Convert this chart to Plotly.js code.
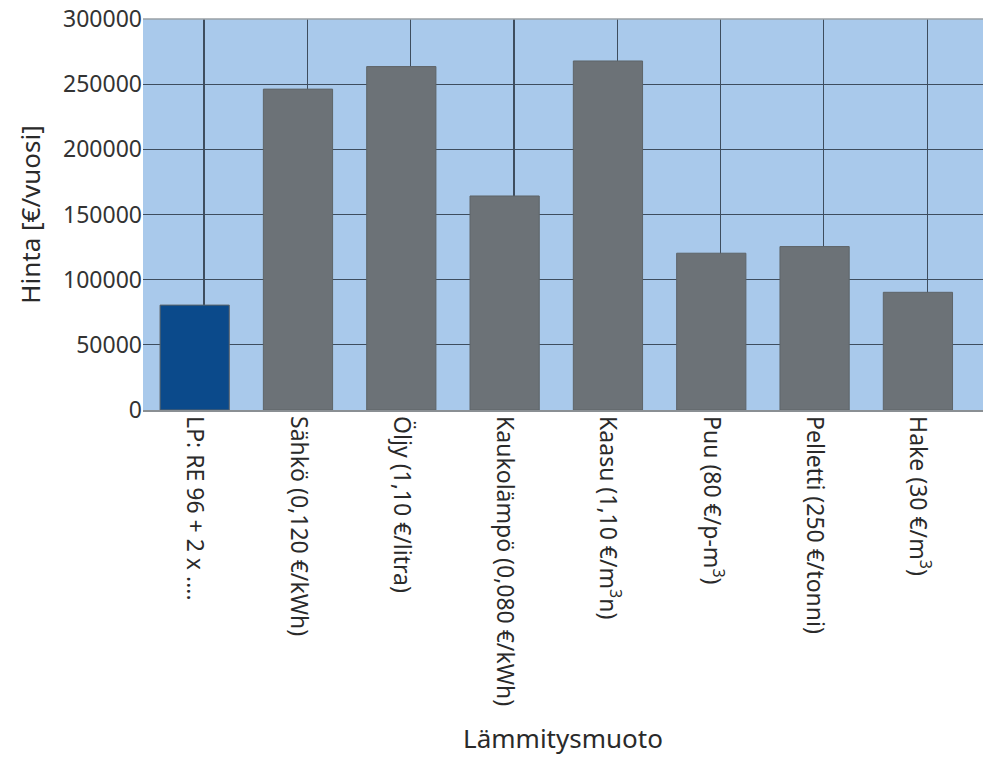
<!DOCTYPE html>
<html>
<head>
<meta charset="utf-8">
<script src="https://cdn.plot.ly/plotly-3.0.1.min.js"></script>
<style>
html,body{margin:0;padding:0;background:#fff;}
#chart{width:983px;height:759px;}
</style>
</head>
<body>
<div id="chart"></div>
<script>
// Data
var categories = [
  "LP: RE 96 + 2 x ....",
  "Sähkö (0,120 €/kWh)",
  "Öljy (1,10 €/litra)",
  "Kaukolämpö (0,080 €/kWh)",
  "Kaasu (1,10 €/m<sup>3</sup>n)",
  "Puu (80 €/p-m<sup>3</sup>)",
  "Pelletti (250 €/tonni)",
  "Hake (30 €/m<sup>3</sup>)"
];
var values = [80500, 246200, 263500, 164200, 267800, 120300, 125400, 90300];
var barColors = ["#0B4A8B", "#6C7277", "#6C7277", "#6C7277", "#6C7277", "#6C7277", "#6C7277", "#6C7277"];
var yTickVals = [0, 50000, 100000, 150000, 200000, 250000, 300000];

var positions = categories.map(function(_, i){ return i; });
var gridOffsets = positions.map(function(p){ return p + 0.09; });

var trace = {
  type: 'bar',
  x: positions,
  y: values,
  width: 0.67,
  marker: {color: barColors, line: {color: '#5E6468', width: 1}},
  hoverinfo: 'none'
};

var fontFam = '"Noto Sans", "Open Sans", sans-serif';
var layout = {
  width: 983, height: 759,
  margin: {l: 143, r: 0, t: 19, b: 349},
  paper_bgcolor: '#ffffff',
  plot_bgcolor: '#A9C9EB',
  showlegend: false,
  bargap: 0,
  xaxis: {
    range: [-0.5, 7.63],
    tickmode: 'array',
    tickvals: positions,
    ticktext: categories,
    tickangle: 90,
    ticks: '',
    showgrid: false,
    zeroline: false,
    showline: true,
    linecolor: '#8A8F93',
    linewidth: 1.5,
    tickfont: {family: fontFam, size: 23, color: '#2a2a2a'},
    minor: {tickmode: 'array', tickvals: gridOffsets, showgrid: true, gridcolor: '#3E4D5E', gridwidth: 1.2, ticks: ''},
    title: {text: 'Lämmitysmuoto', font: {family: fontFam, size: 26, color: '#2a2a2a'}, standoff: 24},
    fixedrange: true
  },
  yaxis: {
    range: [0, 300000],
    tickmode: 'array',
    tickvals: yTickVals,
    tickformat: 'd',
    showgrid: true,
    gridcolor: '#3E4D5E',
    gridwidth: 1.2,
    zeroline: false,
    showline: false,
    ticks: '',
    tickfont: {family: fontFam, size: 23, color: '#333333'},
    title: {text: 'Hinta [€/vuosi]', font: {family: fontFam, size: 26, color: '#2a2a2a'}, standoff: 14},
    fixedrange: true
  },
  shapes: [{
    type: 'line', xref: 'paper', yref: 'paper', x0: 0, x1: 1, y0: 1, y1: 1,
    line: {color: '#9AA0A6', width: 1.5}
  }]
};

Plotly.newPlot('chart', [trace], layout, {displayModeBar: false, staticPlot: true});
</script>
</body>
</html>
